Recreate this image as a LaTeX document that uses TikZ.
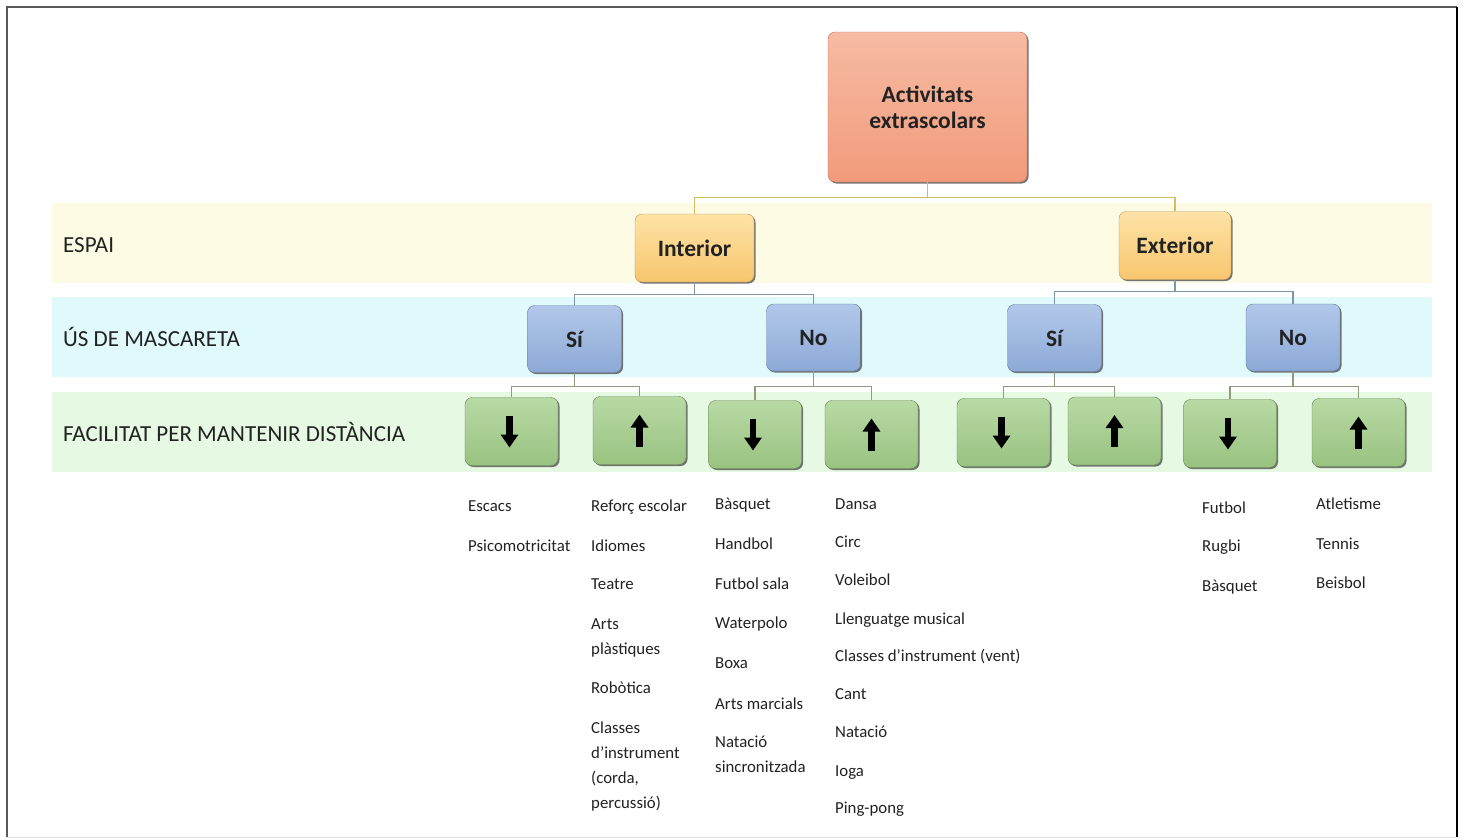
\documentclass[tikz,border=0pt]{standalone}
\usepackage{fontspec}
\setmainfont{Carlito}
\usetikzlibrary{arrows.meta,shadows}
\definecolor{bandY}{HTML}{FEFBE4}
\definecolor{bandC}{HTML}{E0FAFC}
\definecolor{bandG}{HTML}{E5F9E3}
\definecolor{txt}{HTML}{222222}
\definecolor{lnY}{HTML}{D2BE5E}
\definecolor{lnB}{HTML}{7F96A8}
\definecolor{lnG}{HTML}{8C9C7C}
\definecolor{salT}{HTML}{F6BBA3}
\definecolor{salB}{HTML}{F29B7B}
\definecolor{salD}{HTML}{B07060}
\definecolor{orT}{HTML}{FDE3A6}
\definecolor{orB}{HTML}{F8C66E}
\definecolor{orD}{HTML}{B8935A}
\definecolor{blT}{HTML}{B2C8EA}
\definecolor{blB}{HTML}{8CA9D6}
\definecolor{blD}{HTML}{5F7898}
\definecolor{grT}{HTML}{B8D9A4}
\definecolor{grB}{HTML}{99C381}
\definecolor{grD}{HTML}{60804F}
\tikzset{
  box/.style={rectangle, rounded corners=7pt, inner sep=0pt, text=txt,
    font=\fontsize{23.5}{26}\selectfont\bfseries, align=center,
    drop shadow={shadow xshift=1.5pt, shadow yshift=-1.5pt, fill=black!60, opacity=0.9}},
  topbox/.style={box, top color=salT, bottom color=salB, draw=salD,
    minimum width=199pt, minimum height=150pt},
  orbox/.style={box, top color=orT, bottom color=orB, draw=orD,
    minimum height=68pt},
  bluebox/.style={box, top color=blT, bottom color=blB, draw=blD,
    minimum width=94pt, minimum height=67pt},
  greenbox/.style={box, top color=grT, bottom color=grB, draw=grD,
    minimum width=93pt, minimum height=68pt},
  bandlabel/.style={anchor=base west, inner sep=0pt, text=txt, font=\fontsize{23}{26}\selectfont},
  item/.style={anchor=base west, inner sep=0pt, text=txt, align=left, font=\fontsize{16.8}{25}\selectfont},
  bigarrow/.style={line width=6.5pt, -{Triangle[length=13pt,width=17pt]}},
  connY/.style={draw=lnY, line width=1.1pt},
  connB/.style={draw=lnB, line width=1.1pt},
  connG/.style={draw=lnG, line width=1.1pt},
}
\begin{document}
\begin{tikzpicture}[x=1pt,y=-1pt]
\useasboundingbox (0,0) rectangle (1464,839);
\fill[white] (0,0) rectangle (1464,839);
% frame
\draw[draw=black!65, line width=2pt] (7,837) -- (7,7) -- (1457,7);
\draw[draw=black, line width=1.6pt] (1457,7) -- (1457,837);
\draw[draw=black!12, line width=1pt] (7,837) -- (1457,837);
% bands
\fill[bandY] (52,203) rectangle (1432,283);
\fill[bandC] (52,297) rectangle (1432,377);
\fill[bandG] (52,392) rectangle (1432,472);
\node[bandlabel] (lEsp) at (63,252) {ESPAI};
\node[bandlabel] (lMas) at (63,346) {ÚS DE MASCARETA};
\node[bandlabel] (lFac) at (63,441) {FACILITAT PER MANTENIR DISTÀNCIA};
% boxes
\node[topbox] (top) at (927.5,107) {Activitats\\extrascolars};
\node[orbox, minimum width=119pt] (int) at (694.5,248) {Interior};
\node[orbox, minimum width=112pt] (ext) at (1175,245.5) {Exterior};
\node[bluebox] (si1) at (574.5,339) {Sí};
\node[bluebox] (no1) at (813.5,337.5) {No};
\node[bluebox] (si2) at (1054.5,338) {Sí};
\node[bluebox] (no2) at (1293,337.5) {No};
\node[greenbox] (g1) at (511.5,431.5) {};
\node[greenbox] (g2) at (639.5,430.5) {};
\node[greenbox] (g3) at (755,434.5) {};
\node[greenbox] (g4) at (871.5,434.5) {};
\node[greenbox] (g5) at (1003.5,432.5) {};
\node[greenbox] (g6) at (1114.5,431) {};
\node[greenbox] (g7) at (1230,433.5) {};
\node[greenbox] (g8) at (1358.5,432.5) {};
% connectors
\draw[connY] (top.south) -- ++(0,15) -| (int.north);
\draw[connY] (top.south) -- ++(0,15) -| (ext.north);
\draw[connB] (int.south) -- ++(0,12) -| (si1.north);
\draw[connB] (int.south) -- ++(0,12) -| (no1.north);
\draw[connB] (ext.south) -- ++(0,12) -| (si2.north);
\draw[connB] (ext.south) -- ++(0,12) -| (no2.north);
\draw[connG] (si1.south) -- ++(0,14) -| (g1.north);
\draw[connG] (si1.south) -- ++(0,14) -| (g2.north);
\draw[connG] (no1.south) -- ++(0,15) -| (g3.north);
\draw[connG] (no1.south) -- ++(0,15) -| (g4.north);
\draw[connG] (si2.south) -- ++(0,15) -| (g5.north);
\draw[connG] (si2.south) -- ++(0,15) -| (g6.north);
\draw[connG] (no2.south) -- ++(0,15) -| (g7.north);
\draw[connG] (no2.south) -- ++(0,15) -| (g8.north);
% arrows
\foreach \g in {g1,g3,g5,g7} {
  \draw[bigarrow] ([xshift=-2pt,yshift=16pt]\g.center) -- ([xshift=-2pt,yshift=-16pt]\g.center);
}
\foreach \g in {g2,g4,g6,g8} {
  \draw[bigarrow] ([yshift=-16pt]\g.center) -- ([yshift=16pt]\g.center);
}
% lists (multi-line items are anchored at the baseline of their last line)
\node[item] (a1) at (468,511) {Escacs};
\node[item] (a2) at (468,551) {Psicomotricitat};
\node[item] (b1) at (591,511) {Reforç escolar};
\node[item] (b2) at (591,551) {Idiomes};
\node[item] (b3) at (591,589) {Teatre};
\node[item] (b4) at (591,654) {Arts\\plàstiques};
\node[item] (b5) at (591,693) {Robòtica};
\node[item] (b6) at (591,808) {Classes\\d’instrument\\(corda,\\percussió)};
\node[item] (c1) at (715,509) {Bàsquet};
\node[item] (c2) at (715,549) {Handbol};
\node[item] (c3) at (715,589) {Futbol sala};
\node[item] (c4) at (715,628) {Waterpolo};
\node[item] (c5) at (715,668) {Boxa};
\node[item] (c6) at (715,709) {Arts marcials};
\node[item] (c7) at (715,772) {Natació\\sincronitzada};
\node[item] (d1) at (835,509) {Dansa};
\node[item] (d2) at (835,547) {Circ};
\node[item] (d3) at (835,585) {Voleibol};
\node[item] (d4) at (835,624) {Llenguatge musical};
\node[item] (d5) at (835,661) {Classes d’instrument (vent)};
\node[item] (d6) at (835,699) {Cant};
\node[item] (d7) at (835,737) {Natació};
\node[item] (d8) at (835,776) {Ioga};
\node[item] (d9) at (835,813) {Ping-pong};
\node[item] (e1) at (1202,513) {Futbol};
\node[item] (e2) at (1202,551) {Rugbi};
\node[item] (e3) at (1202,591) {Bàsquet};
\node[item] (f1) at (1316,509) {Atletisme};
\node[item] (f2) at (1316,549) {Tennis};
\node[item] (f3) at (1316,588) {Beisbol};
\end{tikzpicture}
\end{document}
